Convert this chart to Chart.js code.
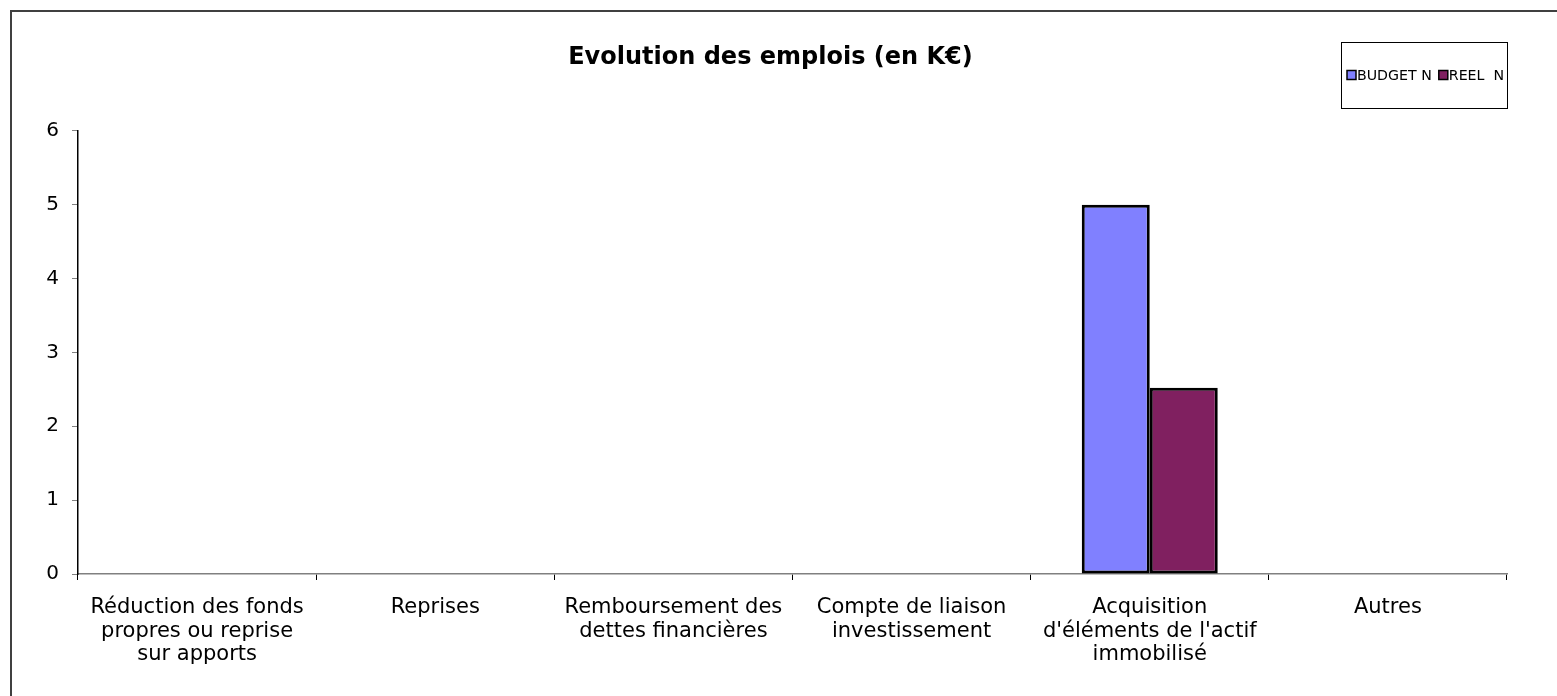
<!DOCTYPE html>
<html>
<head>
<meta charset="utf-8">
<script src="https://cdn.jsdelivr.net/npm/chart.js@4"></script>
<style>
  html, body { margin: 0; padding: 0; background: #fff; }
  #wrap { width: 1557px; height: 696px; }
</style>
</head>
<body>
<div id="wrap"><canvas id="myChart"></canvas></div>
<script>
// data
var categories = [
  ["Réduction des fonds", "propres ou reprise", "sur apports"],
  "Reprises",
  ["Remboursement des", "dettes financières"],
  ["Compte de liaison", "investissement"],
  ["Acquisition", "d'éléments de l'actif", "immobilisé"],
  "Autres"
];
var budgetN = [0, 0, 0, 0, 5, 0];
var reelN = [0, 0, 0, 0, 2.52, 0];
var yMin = 0;
var yMax = 6;
var yStep = 1;

var font = "'DejaVu Sans', Verdana, sans-serif";

// cadre exterieur
var framePlugin = {
  id: "frame",
  beforeDraw: function (chart) {
    var ctx = chart.ctx;
    ctx.save();
    ctx.strokeStyle = "#404040";
    ctx.lineWidth = 2;
    ctx.strokeRect(11, 11, chart.width + 20, chart.height + 20);
    ctx.restore();
  }
};

// legende encadree en haut a droite
var boxLegend = {
  id: "boxLegend",
  afterDraw: function (chart) {
    var ctx = chart.ctx;
    var x0 = 1341, y0 = 42, w = 166, h = 66;
    ctx.save();
    ctx.strokeStyle = "#000";
    ctx.lineWidth = 1;
    ctx.strokeRect(x0 + 0.5, y0 + 0.5, w, h);
    ctx.font = "14.2px " + font;
    ctx.textBaseline = "middle";
    var x = x0 + 6;
    var cy = y0 + 33;
    chart.data.datasets.forEach(function (ds) {
      ctx.fillStyle = ds.backgroundColor;
      ctx.fillRect(x, cy - 4.5, 9, 9);
      ctx.strokeStyle = "#000";
      ctx.lineWidth = 1.5;
      ctx.strokeRect(x, cy - 4.5, 9, 9);
      ctx.fillStyle = "#000";
      ctx.fillText(ds.label, x + 10, cy + 1);
      x += 10 + ctx.measureText(ds.label).width + 7;
    });
    ctx.restore();
  }
};

var ctx = document.getElementById("myChart").getContext("2d");
var myChart = new Chart(ctx, {
  type: "bar",
  data: {
    labels: categories,
    datasets: [
      {
        label: "BUDGET N",
        data: budgetN,
        backgroundColor: "#8080FF",
        borderColor: "#000",
        borderWidth: 3,
        borderSkipped: false
      },
      {
        label: "REEL  N",
        data: reelN,
        backgroundColor: "#802060",
        borderColor: "#000",
        borderWidth: 3,
        borderSkipped: false
      }
    ]
  },
  options: {
    responsive: true,
    maintainAspectRatio: false,
    animation: false,
    events: [],
    layout: { padding: { left: 34, right: 50, top: 43, bottom: 0 } },
    datasets: {
      bar: { categoryPercentage: 0.571, barPercentage: 1 }
    },
    plugins: {
      legend: { display: false },
      tooltip: { enabled: false },
      title: {
        display: true,
        text: "Evolution des emplois (en K€)",
        color: "#000",
        font: { family: font, size: 24, weight: "bold", lineHeight: 1.2 },
        padding: { top: 0, bottom: 59 }
      }
    },
    scales: {
      x: {
        grid: {
          offset: true,
          drawOnChartArea: false,
          drawTicks: true,
          tickLength: 6,
          color: "#000"
        },
        border: { color: "#808080", width: 1.5 },
        ticks: {
          color: "#000",
          maxRotation: 0,
          autoSkip: false,
          padding: 16,
          font: { family: font, size: 21, lineHeight: 1.12 }
        },
        afterFit: function (scale) { scale.height = 122; }
      },
      y: {
        min: yMin,
        max: yMax,
        grid: {
          drawOnChartArea: false,
          drawTicks: true,
          tickLength: 6,
          color: "#808080"
        },
        border: { color: "#000", width: 1.5 },
        ticks: {
          stepSize: yStep,
          color: "#000",
          padding: 13,
          font: { family: font, size: 20 }
        },
        afterFit: function (scale) { scale.width = 44; }
      }
    }
  },
  plugins: [framePlugin, boxLegend]
});
</script>
</body>
</html>
